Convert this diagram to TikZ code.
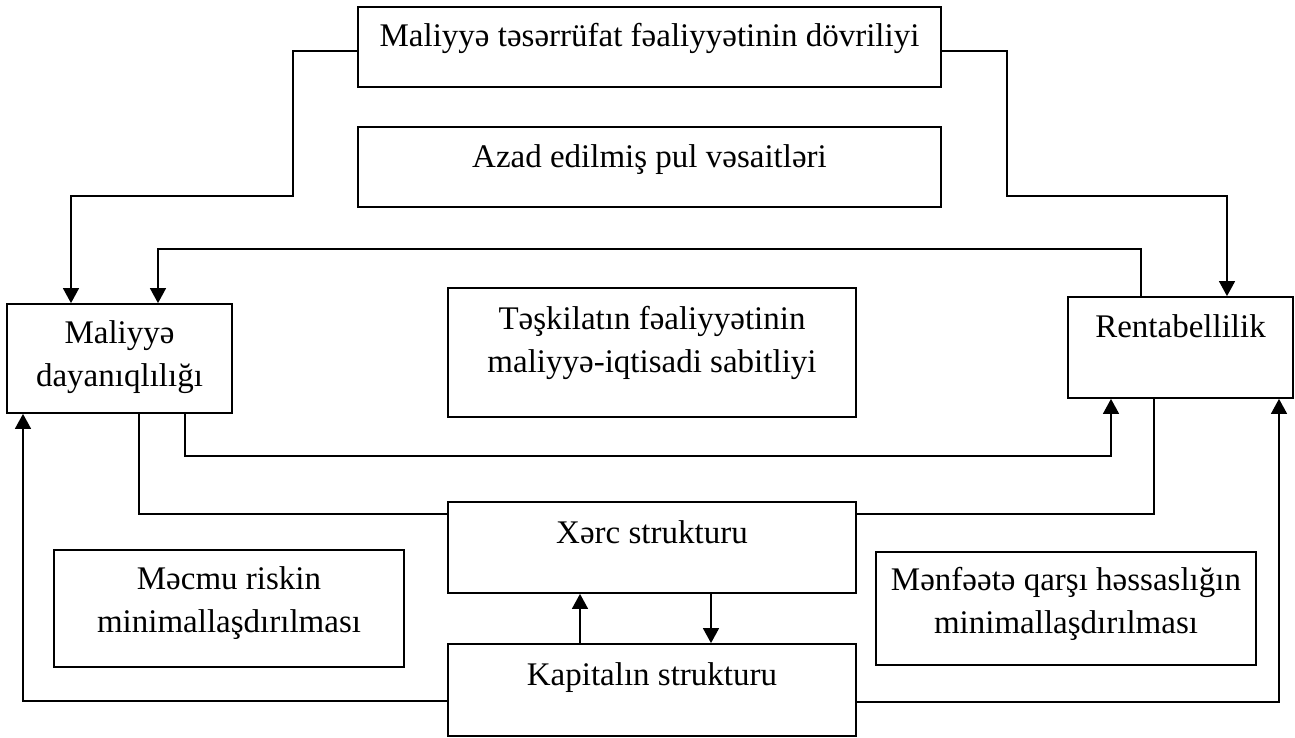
\documentclass[tikz,border=0pt]{standalone}
\usepackage{fontspec}
\setmainfont{Liberation Serif}
\usetikzlibrary{arrows.meta}
\begin{document}
\begin{tikzpicture}[x=1pt,y=-1pt,
  box/.style={draw,line width=1.8pt,rectangle,inner sep=0pt},
  txt/.style={inner sep=0pt,align=center,anchor=base,font=\fontsize{33}{42.5}\selectfont},
  conn/.style={line width=1.5pt},
  arr/.style={line width=1.5pt,-{Triangle[width=16pt,length=15pt]}}]
\useasboundingbox (0,0) rectangle (1295,738);
% boxes
\node[box,minimum width=583pt,minimum height=80pt] (top) at (649.5,47) {};
\node[box,minimum width=583pt,minimum height=80pt] (azad) at (649.5,167) {};
\node[box,minimum width=225pt,minimum height=109pt] (day) at (119.5,358.5) {};
\node[box,minimum width=408pt,minimum height=129pt] (tesk) at (652,352.5) {};
\node[box,minimum width=225pt,minimum height=101pt] (rent) at (1180.5,347.5) {};
\node[box,minimum width=408pt,minimum height=91pt] (xerc) at (652,547.5) {};
\node[box,minimum width=350pt,minimum height=117pt] (mecmu) at (229,608.5) {};
\node[box,minimum width=380pt,minimum height=113pt] (menf) at (1066,608.5) {};
\node[box,minimum width=408pt,minimum height=92pt] (kap) at (652,690) {};
% texts
\node[txt] (top-t) at (649.5,47) {Maliyyə təsərrüfat fəaliyyətinin dövriliyi};
\node[txt] (azad-t) at (649.5,168) {Azad edilmiş pul vəsaitləri};
\node[txt] (day-t) at (119.5,386) {Maliyyə\\dayanıqlılığı};
\node[txt] (tesk-t) at (652,372) {Təşkilatın fəaliyyətinin\\maliyyə-iqtisadi sabitliyi};
\node[txt] (rent-t) at (1180.5,337) {Rentabellilik};
\node[txt] (xerc-t) at (652,543) {Xərc strukturu};
\node[txt] (mecmu-t) at (229,632) {Məcmu riskin\\minimallaşdırılması};
\node[txt] (menf-t) at (1066,633) {Mənfəətə qarşı həssaslığın\\minimallaşdırılması};
\node[txt] (kap-t) at (652,685) {Kapitalın strukturu};
% connectors
\draw[arr] (top.west |- 0,51) -- (293,51) -- (293,196) -- (71,196) -- (71,0 |- day.north);
\draw[arr] (top.east |- 0,51) -- (1007,51) -- (1007,196) -- (1227,196) -- (1227,0 |- rent.north);
\draw[arr] (1141,0 |- rent.north) -- (1141,249) -- (158,249) -- (158,0 |- day.north);
\draw[arr] (185,0 |- day.south) -- (185,456) -- (1111,456) -- (1111,0 |- rent.south);
\draw[conn] (139,0 |- day.south) -- (139,514) -- (xerc.west |- 0,514);
\draw[conn] (1154,0 |- rent.south) -- (1154,514) -- (xerc.east |- 0,514);
\draw[arr] (kap.west |- 0,701) -- (23,701) -- (23,0 |- day.south);
\draw[arr] (kap.east |- 0,702) -- (1279,702) -- (1279,0 |- rent.south);
\draw[arr] (580,0 |- kap.north) -- (580,0 |- xerc.south);
\draw[arr] (711,0 |- xerc.south) -- (711,0 |- kap.north);
\end{tikzpicture}
\end{document}
